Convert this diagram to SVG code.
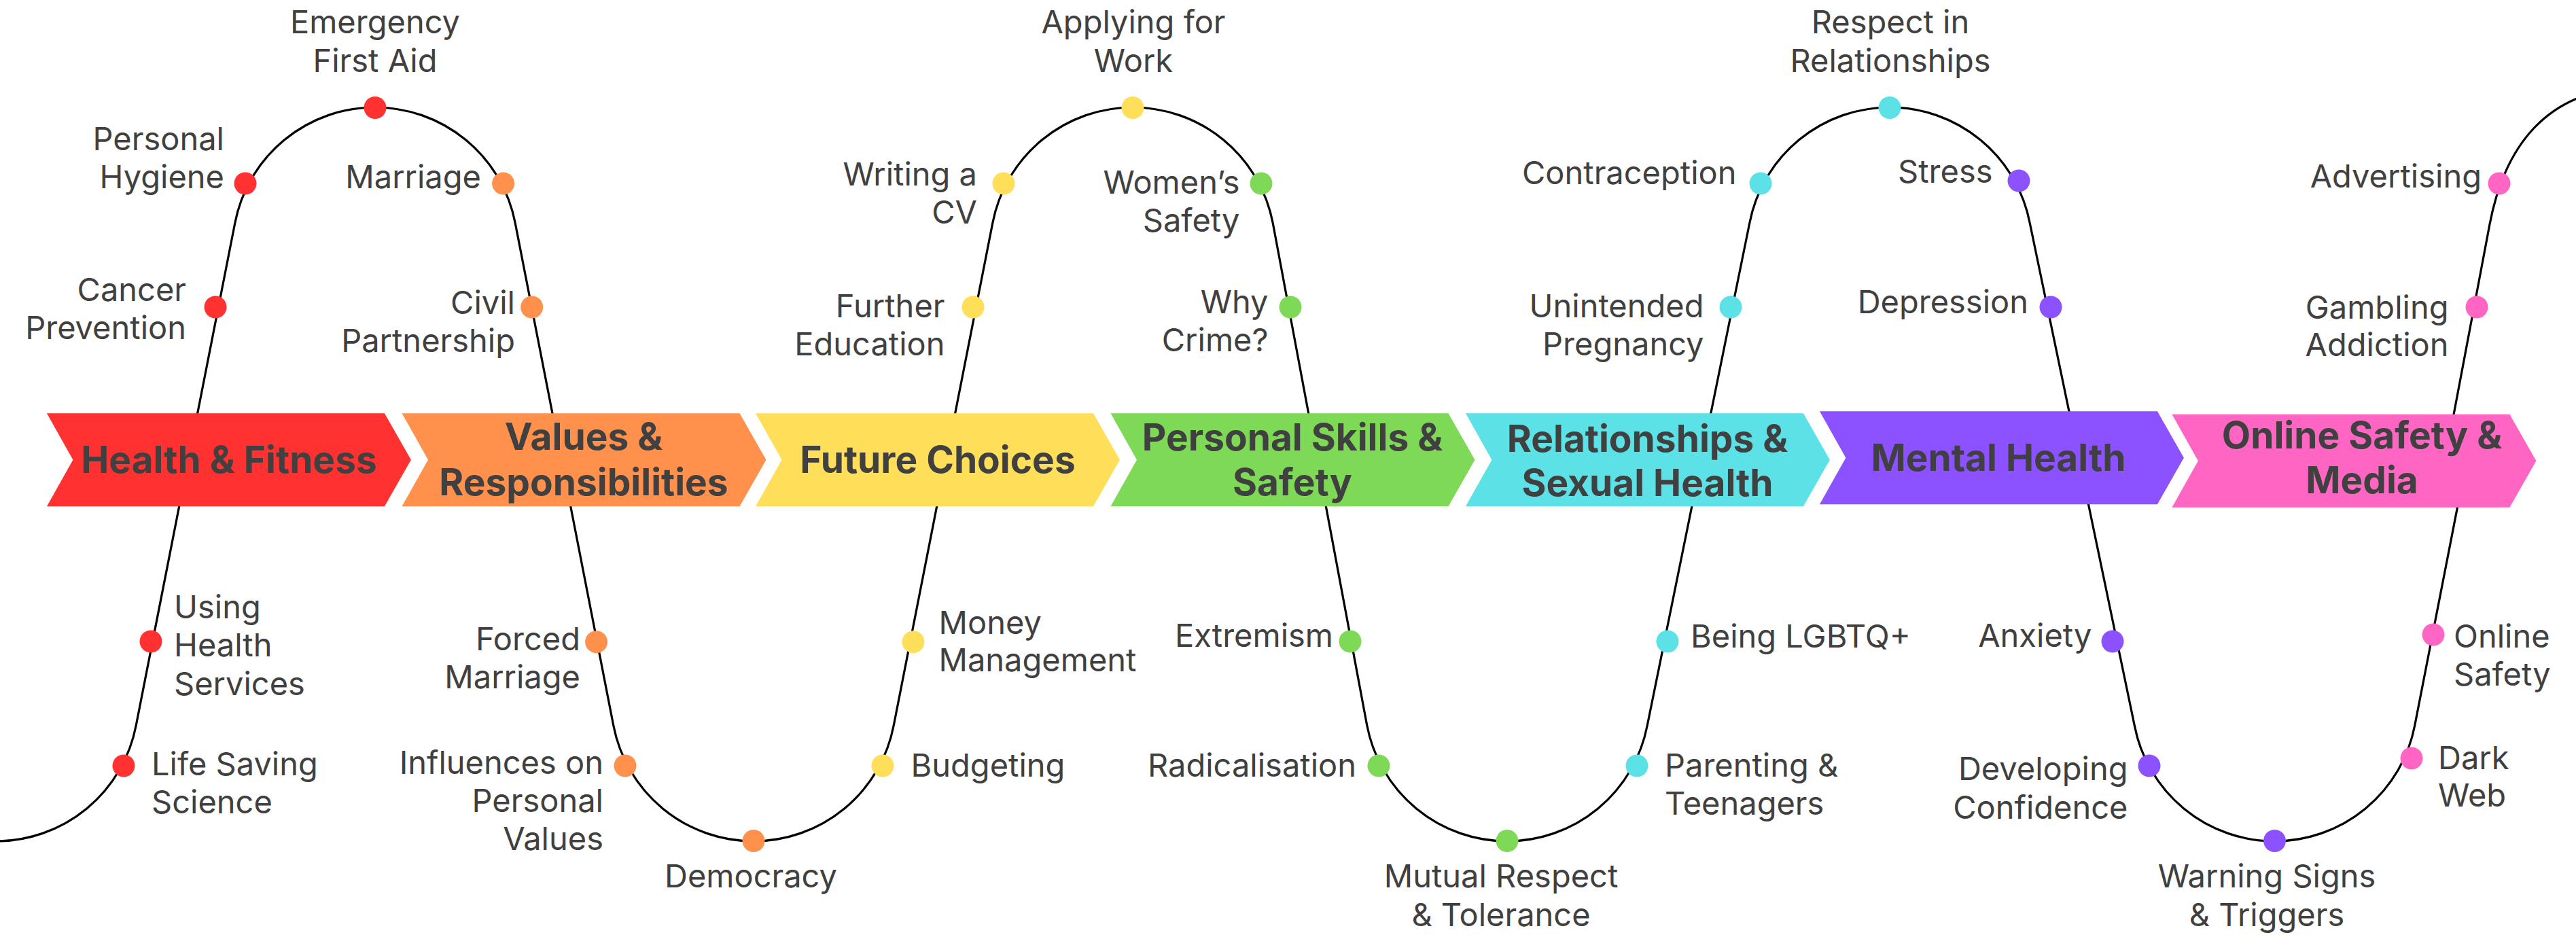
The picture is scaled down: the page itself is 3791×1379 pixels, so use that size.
<svg xmlns="http://www.w3.org/2000/svg" width="3791" height="1379" viewBox="0 0 3791 1379">
<style>
.lbl{font-family:Inter,"Liberation Sans","DejaVu Sans",sans-serif;font-size:47px;fill:#404040}
.ttl{font-family:Inter,"Liberation Sans","DejaVu Sans",sans-serif;font-size:55px;font-weight:700;fill:#404040;text-anchor:middle}
.e{text-anchor:end}.s{text-anchor:start}.m{text-anchor:middle}
.wave{fill:none;stroke:#000;stroke-width:3.2}
.red{fill:#FF3131}.ora{fill:#FF914D}.yel{fill:#FFDE59}.gre{fill:#7ED957}.cya{fill:#5CE1E6}.pur{fill:#8C52FF}.pin{fill:#FF66C4}
</style>
<defs>
<polygon id="chev" points="0,0 497,0 536,68.5 497,137 0,137 38.5,68.5"/>
<circle id="dot" r="16.5"/>
</defs>
<rect width="3791" height="1379" fill="#fff"/>
<g id="connectors">
<path class="wave" d="M -6 1238 A 210 210 0 0 0 200.2 1067.8 L 345.8 328.2 A 210 210 0 0 1 552 158 A 210 210 0 0 1 758.2 328.2 L 902.8 1067.8 A 210 210 0 0 0 1109 1238 A 210 210 0 0 0 1315.2 1067.8 L 1460.8 328.2 A 210 210 0 0 1 1667 158 A 210 210 0 0 1 1873.2 328.2 L 2011.8 1067.8 A 210 210 0 0 0 2218 1238 A 210 210 0 0 0 2424.2 1067.8 L 2574.8 328.2 A 210 210 0 0 1 2781 158 A 210 210 0 0 1 2987.2 328.2 L 3141.3 1067.8 A 210 210 0 0 0 3347.5 1238 A 210 210 0 0 0 3553.7 1067.8 L 3625.6 700 M 3594 700 L 3664 330 C 3685 220 3745 128 3885 128 L 3950 128"/>
</g>
<g id="banner-health"><use href="#chev" x="68.9" y="608.3" class="red"/><text class="ttl" x="337" y="696">Health &amp; Fitness</text></g>
<g id="banner-values"><use href="#chev" x="591.5" y="608.3" class="ora"/><text class="ttl"><tspan x="859" y="662.3">Values &amp;</tspan><tspan x="859" y="728.7">Responsibilities</tspan></text></g>
<g id="banner-future"><use href="#chev" x="1112" y="608.3" class="yel"/><text class="ttl" x="1380" y="696">Future Choices</text></g>
<g id="banner-personal"><use href="#chev" x="1634.5" y="608.3" class="gre"/><text class="ttl"><tspan x="1902" y="662.5">Personal Skills &amp;</tspan><tspan x="1902" y="728.7">Safety</tspan></text></g>
<g id="banner-relationships"><use href="#chev" x="2156.9" y="608.3" class="cya"/><text class="ttl"><tspan x="2424.5" y="665">Relationships &amp;</tspan><tspan x="2424.5" y="730">Sexual Health</tspan></text></g>
<g id="banner-mental"><use href="#chev" x="2677.9" y="605.3" class="pur"/><text class="ttl" x="2941" y="692.5">Mental Health</text></g>
<g id="banner-online"><use href="#chev" x="3196.4" y="609.7" class="pin"/><text class="ttl"><tspan x="3476" y="660">Online Safety &amp;</tspan><tspan x="3476" y="726">Media</tspan></text></g>

<g id="t-lifesaving"><use href="#dot" x="182" y="1127" class="red"/><text class="lbl s"><tspan x="223" y="1140.5">Life Saving</tspan><tspan x="223" y="1196.5">Science</tspan></text></g>
<g id="t-usinghealth"><use href="#dot" x="222" y="944" class="red"/><text class="lbl s"><tspan x="256" y="909.5">Using</tspan><tspan x="256" y="966">Health</tspan><tspan x="256" y="1022.5">Services</tspan></text></g>
<g id="t-cancer"><use href="#dot" x="317" y="452" class="red"/><text class="lbl e"><tspan x="274" y="443">Cancer</tspan><tspan x="274" y="499">Prevention</tspan></text></g>
<g id="t-hygiene"><use href="#dot" x="361" y="270" class="red"/><text class="lbl e"><tspan x="330" y="221">Personal</tspan><tspan x="330" y="277">Hygiene</tspan></text></g>
<g id="t-firstaid"><use href="#dot" x="552" y="158.5" class="red"/><text class="lbl m"><tspan x="552" y="49">Emergency</tspan><tspan x="552" y="106">First Aid</tspan></text></g>

<g id="t-marriage"><use href="#dot" x="740.6" y="270" class="ora"/><text class="lbl e" x="708" y="277">Marriage</text></g>
<g id="t-civil"><use href="#dot" x="782.7" y="452" class="ora"/><text class="lbl e"><tspan x="758" y="462">Civil</tspan><tspan x="758" y="518">Partnership</tspan></text></g>
<g id="t-forced"><use href="#dot" x="877.6" y="944.7" class="ora"/><text class="lbl e"><tspan x="854" y="957">Forced</tspan><tspan x="854" y="1013">Marriage</tspan></text></g>
<g id="t-influences"><use href="#dot" x="920" y="1127" class="ora"/><text class="lbl e"><tspan x="888" y="1139">Influences on</tspan><tspan x="888" y="1195">Personal</tspan><tspan x="888" y="1251">Values</tspan></text></g>
<g id="t-democracy"><use href="#dot" x="1109" y="1237.5" class="ora"/><text class="lbl m" x="1105" y="1306">Democracy</text></g>

<g id="t-budgeting"><use href="#dot" x="1299" y="1127" class="yel"/><text class="lbl s" x="1340.5" y="1142.5">Budgeting</text></g>
<g id="t-money"><use href="#dot" x="1344" y="944.7" class="yel"/><text class="lbl s"><tspan x="1381.5" y="932.5">Money</tspan><tspan x="1381.5" y="988">Management</tspan></text></g>
<g id="t-further"><use href="#dot" x="1432" y="452" class="yel"/><text class="lbl e"><tspan x="1390.5" y="466.5">Further</tspan><tspan x="1390.5" y="522.5">Education</tspan></text></g>
<g id="t-cv"><use href="#dot" x="1477" y="270" class="yel"/><text class="lbl e"><tspan x="1438" y="273">Writing a</tspan><tspan x="1438" y="329">CV</tspan></text></g>
<g id="t-applying"><use href="#dot" x="1667" y="158.5" class="yel"/><text class="lbl m"><tspan x="1668" y="49">Applying for</tspan><tspan x="1668" y="106">Work</tspan></text></g>

<g id="t-women"><use href="#dot" x="1856" y="270" class="gre"/><text class="lbl e"><tspan x="1824.5" y="284.5">Women’s</tspan><tspan x="1824.5" y="340.5">Safety</tspan></text></g>
<g id="t-crime"><use href="#dot" x="1899" y="452" class="gre"/><text class="lbl e"><tspan x="1866.5" y="460.5">Why</tspan><tspan x="1866.5" y="517">Crime?</tspan></text></g>
<g id="t-extremism"><use href="#dot" x="1987" y="944" class="gre"/><text class="lbl e" x="1962" y="952">Extremism</text></g>
<g id="t-radicalisation"><use href="#dot" x="2029" y="1127" class="gre"/><text class="lbl e" x="1996" y="1142.5">Radicalisation</text></g>
<g id="t-mutual"><use href="#dot" x="2218" y="1237.5" class="gre"/><text class="lbl m"><tspan x="2209" y="1306">Mutual Respect</tspan><tspan x="2209" y="1362.5">&amp; Tolerance</tspan></text></g>

<g id="t-parenting"><use href="#dot" x="2409" y="1127" class="cya"/><text class="lbl s"><tspan x="2450" y="1142.5">Parenting &amp;</tspan><tspan x="2450" y="1198.5">Teenagers</tspan></text></g>
<g id="t-lgbtq"><use href="#dot" x="2454" y="944" class="cya"/><text class="lbl s" x="2488" y="953">Being LGBTQ+</text></g>
<g id="t-unintended"><use href="#dot" x="2547" y="452" class="cya"/><text class="lbl e"><tspan x="2507.5" y="466.5">Unintended</tspan><tspan x="2507.5" y="522.5">Pregnancy</tspan></text></g>
<g id="t-contraception"><use href="#dot" x="2591" y="270" class="cya"/><text class="lbl e" x="2555.5" y="271">Contraception</text></g>
<g id="t-respect"><use href="#dot" x="2781" y="158.5" class="cya"/><text class="lbl m"><tspan x="2782" y="49">Respect in</tspan><tspan x="2782" y="106">Relationships</tspan></text></g>

<g id="t-stress"><use href="#dot" x="2971" y="266" class="pur"/><text class="lbl e" x="2932.5" y="269">Stress</text></g>
<g id="t-depression"><use href="#dot" x="3018" y="452" class="pur"/><text class="lbl e" x="2985" y="461">Depression</text></g>
<g id="t-anxiety"><use href="#dot" x="3109" y="944" class="pur"/><text class="lbl e" x="3078.5" y="952">Anxiety</text></g>
<g id="t-confidence"><use href="#dot" x="3163" y="1127" class="pur"/><text class="lbl e"><tspan x="3131.5" y="1148">Developing</tspan><tspan x="3131.5" y="1204.5">Confidence</tspan></text></g>
<g id="t-warning"><use href="#dot" x="3347.5" y="1237.5" class="pur"/><text class="lbl m"><tspan x="3336" y="1306">Warning Signs</tspan><tspan x="3336" y="1362.5">&amp; Triggers</tspan></text></g>

<g id="t-darkweb"><use href="#dot" x="3549" y="1116" class="pin"/><text class="lbl s"><tspan x="3588" y="1132">Dark</tspan><tspan x="3588" y="1187">Web</tspan></text></g>
<g id="t-onlinesafety"><use href="#dot" x="3581" y="934" class="pin"/><text class="lbl s"><tspan x="3611" y="952.5">Online</tspan><tspan x="3611" y="1008.5">Safety</tspan></text></g>
<g id="t-gambling"><use href="#dot" x="3645" y="452" class="pin"/><text class="lbl e"><tspan x="3603.5" y="468.5">Gambling</tspan><tspan x="3603.5" y="523.5">Addiction</tspan></text></g>
<g id="t-advertising"><use href="#dot" x="3678" y="270" class="pin"/><text class="lbl e" x="3652" y="275.5">Advertising</text></g>
</svg>
